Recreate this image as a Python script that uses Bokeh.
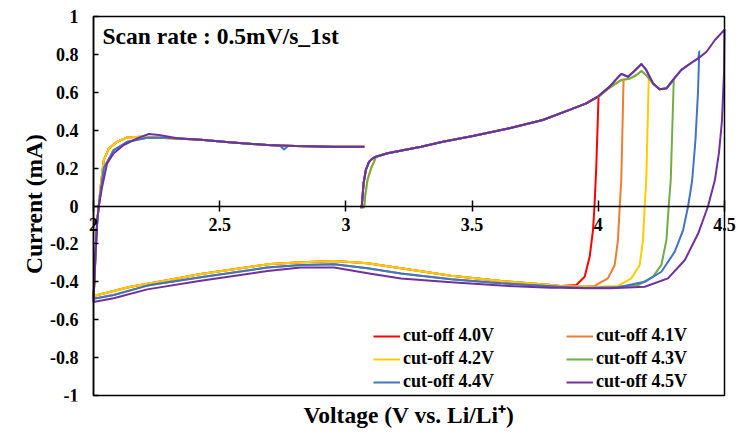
from bokeh.plotting import figure
from bokeh.models import (LinearAxis, FixedTicker, Range1d, Label, Legend, LegendItem,
                          NumeralTickFormatter, BoxAnnotation, Title)
from bokeh.embed import file_html
from bokeh.resources import INLINE

# ---------------- data ----------------
series_names = ["cut-off 4.0V", "cut-off 4.1V", "cut-off 4.2V",
                "cut-off 4.3V", "cut-off 4.4V", "cut-off 4.5V"]
series_colors = ["#FF0000", "#ED7D31", "#FFCC00", "#70AD47", "#4472C4", "#7030A0"]

x_ticks = [2, 2.5, 3, 3.5, 4, 4.5]
x_tick_labels = ["2", "2.5", "3", "3.5", "4", "4.5"]
y_ticks = [-1, -0.8, -0.6, -0.4, -0.2, 0, 0.2, 0.4, 0.6, 0.8, 1]
y_tick_labels = ["-1", "-0.8", "-0.6", "-0.4", "-0.2", "0", "0.2", "0.4", "0.6", "0.8", "1"]
x_min, x_max = 2, 4.5
y_min, y_max = -1, 1

# start of the first anodic sweep (open-circuit voltage)
start_a_v = [3.062, 3.066, 3.070, 3.079, 3.092, 3.105]
start_a_i = [-0.012, 0.05, 0.12, 0.19, 0.234, 0.25]
start_b_v = [3.072, 3.077, 3.086, 3.100, 3.112]
start_b_i = [-0.012, 0.06, 0.14, 0.20, 0.235]

# anodic branch (lower peaks: 4.0-4.3 V cut-offs)
anodic_lo_v = [3.119, 3.165, 3.231, 3.298, 3.384, 3.503, 3.648, 3.780, 3.886, 3.950,
               4.001, 4.045, 4.091, 4.124, 4.150, 4.171, 4.190, 4.217, 4.243, 4.270, 4.299]
anodic_lo_i = [0.26, 0.278, 0.296, 0.313, 0.339, 0.369, 0.410, 0.454, 0.507, 0.54,
               0.577, 0.625, 0.665, 0.672, 0.69, 0.712, 0.69, 0.645, 0.615, 0.62, 0.665]
# anodic branch (higher peaks: 4.4 and 4.5 V cut-offs)
anodic_hi_v = [3.119, 3.165, 3.231, 3.298, 3.384, 3.503, 3.648, 3.780, 3.886, 3.950,
               4.001, 4.045, 4.075, 4.091, 4.118, 4.145, 4.171, 4.190, 4.217, 4.243,
               4.270, 4.296, 4.329, 4.369, 4.396, 4.429, 4.462, 4.500]
anodic_hi_i = [0.26, 0.278, 0.296, 0.313, 0.339, 0.369, 0.410, 0.454, 0.507, 0.54,
               0.58, 0.63, 0.675, 0.697, 0.682, 0.715, 0.749, 0.718, 0.647, 0.616,
               0.621, 0.665, 0.718, 0.756, 0.779, 0.814, 0.876, 0.93]

# reverse sweep from each cut-off voltage
rev_40_v = [4.001, 3.992, 3.985, 3.979, 3.966, 3.946, 3.913]
rev_40_i = [0.577, 0.207, 0.0, -0.127, -0.267, -0.373, -0.417]
rev_41_v = [4.100, 4.091, 4.085, 4.078, 4.065, 4.038, 3.985, 3.93]
rev_41_i = [0.66, 0.137, 0.0, -0.179, -0.311, -0.382, -0.422, -0.425]
rev_42_v = [4.200, 4.190, 4.184, 4.177, 4.164, 4.131, 4.078, 3.98]
rev_42_i = [0.675, 0.137, 0.0, -0.179, -0.311, -0.382, -0.422, -0.428]
rev_43_v = [4.299, 4.287, 4.279, 4.270, 4.250, 4.217, 4.158, 4.05, 3.95]
rev_43_i = [0.665, 0.137, 0.0, -0.179, -0.311, -0.373, -0.417, -0.432, -0.432]
rev_44_v = [4.400, 4.395, 4.385, 4.372, 4.356, 4.336, 4.303, 4.250, 4.184, 4.078, 3.95]
rev_44_i = [0.815, 0.6, 0.35, 0.137, 0.0, -0.127, -0.241, -0.347, -0.4, -0.429, -0.433]
rev_45_v = [4.500, 4.498, 4.490, 4.478, 4.462, 4.435, 4.396, 4.343, 4.276, 4.184, 4.052, 3.95]
rev_45_i = [0.93, 0.7, 0.45, 0.28, 0.137, 0.0, -0.144, -0.285, -0.382, -0.426, -0.434, -0.434]

# cathodic sweep down to 2.0 V
cath_top_v = [3.85, 3.813, 3.615, 3.417, 3.218, 3.086, 2.954, 2.821, 2.689, 2.425, 2.292, 2.147, 2.06, 2.0]
cath_top_i = [-0.422, -0.417, -0.396, -0.368, -0.329, -0.302, -0.290, -0.297, -0.308, -0.359, -0.392, -0.426, -0.455, -0.475]
cath_mid_v = [3.85, 3.813, 3.615, 3.417, 3.218, 3.086, 2.954, 2.821, 2.689, 2.425, 2.213, 2.08, 2.0]
cath_mid_i = [-0.427, -0.424, -0.408, -0.386, -0.356, -0.328, -0.307, -0.311, -0.325, -0.376, -0.42, -0.47, -0.49]
cath_low_v = [3.85, 3.813, 3.615, 3.417, 3.218, 3.086, 2.954, 2.821, 2.689, 2.425, 2.213, 2.08, 2.0]
cath_low_i = [-0.432, -0.431, -0.42, -0.403, -0.382, -0.355, -0.325, -0.325, -0.343, -0.394, -0.44, -0.487, -0.507]

# anodic rise after the 2.0 V turn
rise_fast_v = [2.0, 2.004, 2.008, 2.015, 2.021, 2.028, 2.041, 2.061, 2.094, 2.134, 2.187, 2.24, 2.3]
rise_fast_i = [-0.475, -0.40, -0.25, -0.074, 0.0, 0.10, 0.243, 0.304, 0.339, 0.362, 0.366, 0.362, 0.358]
rise_mid_v = [2.0, 2.008, 2.015, 2.021, 2.030, 2.041, 2.08, 2.134, 2.213, 2.29]
rise_mid_i = [-0.49, -0.25, -0.074, 0.0, 0.09, 0.20, 0.295, 0.339, 0.36, 0.36]
rise_slow_v = [2.0, 2.008, 2.015, 2.021, 2.034, 2.054, 2.08, 2.12, 2.173, 2.219, 2.259, 2.332]
rise_slow_i = [-0.507, -0.25, -0.074, 0.0, 0.10, 0.225, 0.278, 0.322, 0.357, 0.38, 0.375, 0.357]

# plateau back to ~3.07 V
ret_v = [2.425, 2.55, 2.689, 2.8, 2.954, 3.073]
ret_i = [0.35, 0.335, 0.322, 0.316, 0.313, 0.313]
ret_dip_v = [2.425, 2.55, 2.689, 2.74, 2.755, 2.77, 2.8, 2.954, 3.073]
ret_dip_i = [0.35, 0.335, 0.322, 0.318, 0.298, 0.316, 0.316, 0.311, 0.311]


def build(sv, si, av, ai, rv, ri, cv, ci, uv, ui, tv, ti):
    v, c = list(sv), list(si)
    for a, b in zip(av, ai):
        if a < rv[0]:
            v.append(a)
            c.append(b)
    v += rv; c += ri
    for a, b in zip(cv, ci):
        if a < rv[-1]:
            v.append(a)
            c.append(b)
    v += uv; c += ui
    v += tv; c += ti
    return v, c


curves = [
    build(start_a_v, start_a_i, anodic_lo_v, anodic_lo_i, rev_40_v, rev_40_i, cath_top_v, cath_top_i, rise_fast_v, rise_fast_i, ret_v, ret_i),
    build(start_a_v, start_a_i, anodic_lo_v, anodic_lo_i, rev_41_v, rev_41_i, cath_top_v, cath_top_i, rise_fast_v, rise_fast_i, ret_v, ret_i),
    build(start_b_v, start_b_i, anodic_lo_v, anodic_lo_i, rev_42_v, rev_42_i, cath_top_v, cath_top_i, rise_fast_v, rise_fast_i, ret_v, ret_i),
    build(start_b_v, start_b_i, anodic_lo_v, anodic_lo_i, rev_43_v, rev_43_i, cath_mid_v, cath_mid_i, rise_mid_v, rise_mid_i, ret_v, ret_i),
    build(start_a_v, start_a_i, anodic_hi_v, anodic_hi_i, rev_44_v, rev_44_i, cath_mid_v, cath_mid_i, rise_mid_v, rise_mid_i, ret_dip_v, ret_dip_i),
    build(start_a_v, start_a_i, anodic_hi_v, anodic_hi_i, rev_45_v, rev_45_i, cath_low_v, cath_low_i, rise_slow_v, rise_slow_i, ret_v, ret_i),
]

# ---------------- figure ----------------
FONT = "Liberation Serif"
BOX_W, BOX_H = 631, 379          # plot box in pixels
BOX_LEFT, BOX_TOP = 93, 16       # plot box position on the page
PAD_L, PAD_R, PAD_T, PAD_B = 47, 16, 10, 6   # frame room around the box for tick labels
px_x = BOX_W / (x_max - x_min)
px_y = BOX_H / (y_max - y_min)
FRAME_W = BOX_W + PAD_L + PAD_R

p = figure(frame_width=FRAME_W, frame_height=BOX_H + PAD_T + PAD_B,
           min_border_left=BOX_LEFT - PAD_L, min_border_top=BOX_TOP - PAD_T, min_border_right=6,
           min_border_bottom=30,
           x_range=Range1d(x_min - PAD_L / px_x, x_max + PAD_R / px_x),
           y_range=Range1d(y_min - PAD_B / px_y, y_max + PAD_T / px_y),
           x_axis_location=None, y_axis_location=None,
           output_backend="svg", toolbar_location=None,
           background_fill_color="white", border_fill_color="white")
p.xgrid.visible = False
p.ygrid.visible = False
p.outline_line_color = None

# plot box
p.add_layout(BoxAnnotation(left=x_min, right=x_max, bottom=y_min, top=y_max,
                           fill_alpha=0, line_color="black", line_width=1.5, line_alpha=1))


def style_axis(ax, tick_in, tick_out, standoff):
    ax.axis_line_color = "black"
    ax.axis_line_width = 1.5
    ax.major_tick_line_color = "black"
    ax.major_tick_line_width = 1.5
    ax.major_tick_in = tick_in
    ax.major_tick_out = tick_out
    ax.minor_tick_line_color = None
    ax.major_label_standoff = standoff
    ax.major_label_text_font = FONT
    ax.major_label_text_font_style = "bold"
    ax.major_label_text_font_size = "18px"
    ax.major_label_text_color = "black"


# y-axis title (an axis carrying only its label)
ytitle = LinearAxis(ticker=FixedTicker(ticks=[]), axis_label="Current (mA)")
ytitle.axis_line_color = None
ytitle.major_tick_in = 0
ytitle.major_tick_out = 0
ytitle.minor_tick_line_color = None
ytitle.major_label_standoff = 0
ytitle.axis_label_standoff = 0
ytitle.axis_label_text_font = FONT
ytitle.axis_label_text_font_style = "bold"
ytitle.axis_label_text_font_size = "23.5px"
ytitle.axis_label_text_color = "black"
p.add_layout(ytitle, "left")

# x axis drawn at I = 0
xaxis = LinearAxis(fixed_location=0, ticker=FixedTicker(ticks=x_ticks), bounds=(x_min, x_max),
                   formatter=NumeralTickFormatter(format="0.[0]"),
                   major_label_overrides=dict(zip(x_ticks, x_tick_labels)))
style_axis(xaxis, 6, 5, 7)
p.add_layout(xaxis, "below")

# y axis drawn at V = 2
yaxis = LinearAxis(fixed_location=x_min, ticker=FixedTicker(ticks=y_ticks), bounds=(y_min, y_max),
                   formatter=NumeralTickFormatter(format="0.[0]"),
                   major_label_overrides=dict(zip(y_ticks, y_tick_labels)))
style_axis(yaxis, 5, 0, 15)
p.add_layout(yaxis, "left")

# x-axis title, placed under the middle of the plot box
xtitle = Title(text="Voltage (V vs. Li/Li\u207a)", align="left",
               offset=PAD_L + 210, standoff=0, vertical_align="top",
               text_font=FONT, text_font_style="bold", text_font_size="23.5px",
               text_color="black")
p.add_layout(xtitle, "below")

renderers = []
for (v, c), col in zip(curves, series_colors):
    r = p.line(v, c, line_color=col, line_width=2, line_join="round")
    renderers.append(r)

leg_kw = dict(label_text_font=FONT, label_text_font_style="bold",
              label_text_font_size="18px", label_text_color="black",
              label_height=20, glyph_height=20, glyph_width=27, label_standoff=3,
              spacing=2, padding=0, margin=0, border_line_alpha=0,
              background_fill_alpha=0, orientation="vertical")
leg1 = Legend(items=[LegendItem(label=series_names[k], renderers=[renderers[k]]) for k in (0, 2, 4)],
              location=(PAD_L + 280, 3 + PAD_B), **leg_kw)
leg2 = Legend(items=[LegendItem(label=series_names[k], renderers=[renderers[k]]) for k in (1, 3, 5)],
              location=(PAD_L + 473, 3 + PAD_B), **leg_kw)
p.add_layout(leg1, "center")
p.add_layout(leg2, "center")

p.add_layout(Label(x=PAD_L + 9, y=BOX_H + PAD_B - 19, x_units="screen", y_units="screen",
                   text="Scan rate : 0.5mV/s_1st", text_font=FONT, text_font_style="bold",
                   text_font_size="23.5px", text_color="black", text_baseline="alphabetic"))

open("out.html", "w").write(file_html(p, INLINE))
